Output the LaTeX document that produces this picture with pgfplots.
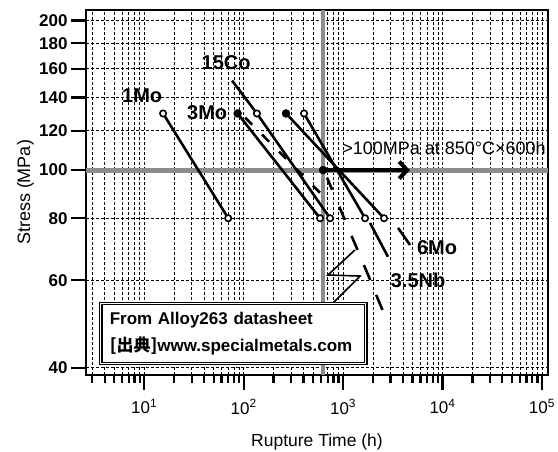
\documentclass[border=0pt]{standalone}
\usepackage{pgfplots}
\pgfplotsset{compat=1.18}
\usepackage{fontspec}
\setmainfont{Liberation Sans}
\newfontfamily\cjk{Noto Sans CJK JP}
\usetikzlibrary{arrows.meta}

\begin{document}
\begin{tikzpicture}
\begin{axis}[
    scale only axis,
    width=462pt, height=365pt,
    xmode=log, ymode=log,
    xmin=2.6, xmax=1.15e5,
    ymin=38.7, ymax=210,
    clip=false,
    axis line style={line width=2pt},
    xtick={10,100,1000,10000,100000},
    xticklabels={10\textsuperscript{1},10\textsuperscript{2},10\textsuperscript{3},10\textsuperscript{4},10\textsuperscript{5}},
    minor xtick={3,4,5,6,7,8,9,20,30,40,50,60,70,80,90,200,300,400,500,600,700,800,900,2000,3000,4000,5000,6000,7000,8000,9000,20000,30000,40000,50000,60000,70000,80000,90000},
    ytick={40,60,80,100,120,140,160,180,200},
    yticklabels={40,60,80,100,120,140,160,180,200},
    yminorticks=false,
    tick pos=left,
    tick align=outside,
    major tick length=15pt,
    minor tick length=8pt,
    every tick/.style={black, line width=2.2pt},
    grid=both,
    major grid style={black, line width=0.7pt, dash pattern=on 3pt off 2pt},
    minor grid style={black, line width=0.7pt, dash pattern=on 3pt off 2pt},
    xticklabel style={font=\fontsize{17}{17}\selectfont, yshift=-6pt},
    yticklabel style={font=\fontsize{17}{17}\selectfont\bfseries},
    xlabel={Rupture Time (h)},
    ylabel={Stress (MPa)},
    xlabel style={font=\fontsize{17.5}{17.5}\selectfont, at={(axis description cs:0.5,-0.197)}, anchor=base},
    ylabel style={font=\fontsize{18}{18}\selectfont, at={(axis description cs:-0.121,0.5)}, anchor=base},
]
% reference lines
\addplot[black!45, line width=5pt] coordinates {(2.6,100) (1.15e5,100)};
\addplot[black!45, line width=4.5pt] coordinates {(630,38.7) (630,210)};

% 1Mo
\addplot[line width=2.6pt, mark=*, mark size=3.2pt, mark options={fill=white, line width=1.6pt}]
  coordinates {(15.5,130) (70,80)};
% 15Co
\addplot[line width=2.6pt] coordinates {(76.6,151.4) (136,130) (740,80)};
% 3Mo
\addplot[line width=2.6pt] coordinates {(87,130) (587,80)};
\addplot[line width=2.6pt, dash pattern=on 10pt off 14pt] coordinates {(103.5,127.5) (615,89.2)};
% 6Mo
\addplot[line width=2.6pt] coordinates {(267,130) (2582,80)};
\addplot[line width=2.6pt] coordinates {(3573,76.5) (4710,70.7)};
% line ending at 1665 h
\addplot[line width=2.6pt] coordinates {(405,130) (1664,80)};
\addplot[line width=2.6pt] coordinates {(1866,78.3) (2831,66.9)};
% 3.5Nb dashes
\addplot[line width=2.6pt] coordinates {(690,96.5) (776,91.3)};
\addplot[line width=2.6pt] coordinates {(917,84.4) (1042,79.4)};
\addplot[line width=2.6pt] coordinates {(1218,73.7) (1398,69.1)};
\addplot[line width=2.6pt] coordinates {(1620,64.4) (1876,60.1)};
\addplot[line width=2.6pt] coordinates {(2151,56.1) (2493,52.3)};

% arrow
\addplot[line width=4pt, -{Straight Barb[length=8pt,width=17pt]}] coordinates {(630,100) (4700,100)};

% markers
\addplot[only marks, mark=*, mark size=3.2pt, mark options={fill=white, draw=black, line width=1.6pt}]
  coordinates {(136,130) (405,130) (587,80) (740,80) (1664,80) (2582,80)};
\addplot[only marks, mark=*, mark size=4pt, black]
  coordinates {(87,130) (267,130) (630,100)};

% zigzag
\addplot[line width=1.6pt] coordinates {(1320,69.1) (706,61.5) (1483,61.2) (793,54.0)};

% labels
\node[font=\fontsize{20}{20}\selectfont\bfseries] at (axis cs:9.55,141.2) {1Mo};
\node[font=\fontsize{20}{20}\selectfont\bfseries] at (axis cs:66.7,164.6) {15Co};
\node[font=\fontsize{20}{20}\selectfont\bfseries] at (axis cs:43,130.5) {3Mo};
\node[font=\fontsize{20}{20}\selectfont\bfseries] at (axis cs:8810,69.7) {6Mo};
\node[font=\fontsize{20}{20}\selectfont\bfseries] at (axis cs:5680,60.1) {3.5Nb};
\node[font=\fontsize{18}{18}\selectfont, anchor=west, inner sep=0pt] at (axis cs:980,110.9) {>100MPa at 850°C×600h};

\node[draw, line width=1.2pt, double, double distance=1.2pt, fill=white, anchor=north west,
      text width=247pt, minimum height=60pt, inner xsep=9pt, align=left,
      font=\fontsize{17}{27}\selectfont\bfseries] at (axis cs:3.61,54.0)
  {From Alloy263 datasheet\\ {\cjk\bfseries [出典]}www.specialmetals.com};
\end{axis}
\pgfresetboundingbox
\path (-86pt,-77pt) rectangle (472pt,375pt);
\end{tikzpicture}
\end{document}
